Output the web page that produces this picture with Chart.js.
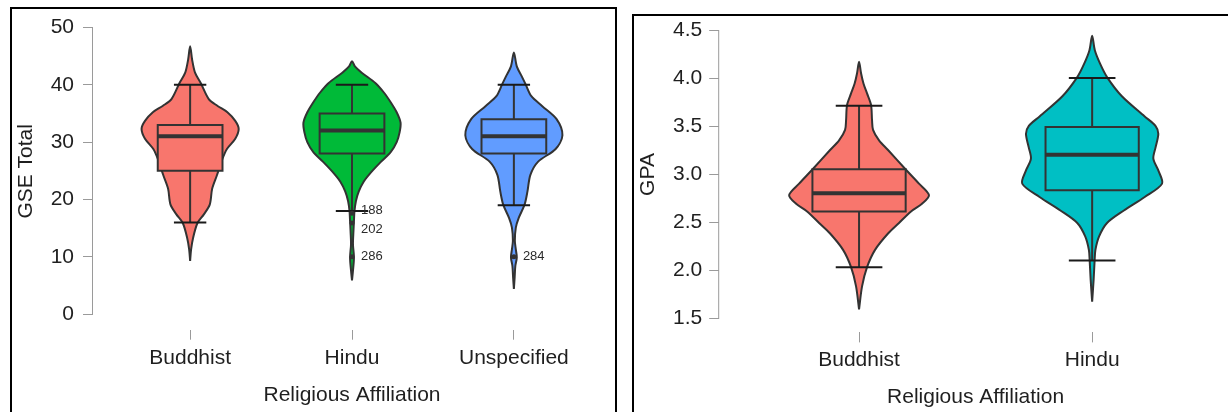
<!DOCTYPE html>
<html>
<head>
<meta charset="utf-8">
<title>Violin plots by religious affiliation</title>
<script src="https://cdn.jsdelivr.net/npm/chart.js@4.4.1/dist/chart.umd.min.js"></script>
<style>
  html, body { margin: 0; padding: 0; background: #fff; width: 1228px; height: 412px; overflow: hidden; }
  .panel { position: absolute; border: 2px solid #000; background: #fff; }
  #gsePanel { left: 10px; top: 7px; width: 603px; height: 410px; }
  #gpaPanel { left: 632px; top: 14px; width: 598px; height: 410px; }
  .panel canvas { position: absolute; left: 0; top: 0; }
</style>
</head>
<body>
<div class="panel" id="gsePanel"><canvas id="gseChart" width="603" height="403"></canvas></div>
<div class="panel" id="gpaPanel"><canvas id="gpaChart" width="598" height="396"></canvas></div>
<script>
// ---- groups and axis ticks ----
const gseGroups = ['Buddhist', 'Hindu', 'Unspecified'];
const gpaGroups = ['Buddhist', 'Hindu'];
const gseTicks = [0, 10, 20, 30, 40, 50];
const gpaTicks = [1.5, 2.0, 2.5, 3.0, 3.5, 4.0, 4.5];

// ---- box-plot summaries: lower whisker, Q1, median, Q3, upper whisker ----
const gseLower  = [16, 18, 19];
const gseQ1     = [25, 28, 28];
const gseMedian = [31, 32, 31];
const gseQ3     = [33, 35, 34];
const gseUpper  = [40, 40, 40];

const gpaLower  = [2.03, 2.10];
const gpaQ1     = [2.61, 2.83];
const gpaMedian = [2.80, 3.20];
const gpaQ3     = [3.05, 3.49];
const gpaUpper  = [3.71, 4.00];

// ---- kernel density profiles: score levels and relative density ----
const gseBuddhistLevels  = [9.3, 11.3, 13.3, 15.9, 17.4, 19.1, 21.9, 24.3, 27.1, 28.8, 30.6, 32.3, 33.7, 35.2, 36.3, 37.5, 40.3, 42.1, 44.4, 46.7];
const gseBuddhistDensity = [0, 1, 3, 7.5, 14, 20, 22.5, 27.5, 33, 37.5, 46, 49.5, 46, 38, 28, 19, 10.8, 5, 2, 0];

const gseHinduLevels  = [5.9, 7.6, 9.9, 12.2, 14.5, 16.2, 17.9, 19.7, 21.4, 23.1, 24.8, 26.6, 28.3, 30.0, 31.7, 33.4, 35.2, 36.9, 38.6, 40.3, 42.1, 43.2, 44.1];
const gseHinduDensity = [0, 1, 2, 1, 1.5, 2, 2.5, 4, 7, 12, 20, 30, 40, 46, 49, 50, 46, 40, 33, 24, 10, 3, 0];

const gseUnspecLevels  = [4.4, 6.4, 8.4, 9.9, 11.3, 12.8, 15.1, 16.8, 19.1, 21.4, 24.3, 26.6, 28.8, 31.2, 34.0, 36.3, 38.0, 40.1, 41.5, 43.2, 45.6];
const gseUnspecDensity = [0, 0.8, 1.5, 3, 2, 1, 2, 5, 11, 14, 17, 25, 43, 50, 44, 29, 18, 12, 8, 3, 0];

const gpaBuddhistLevels  = [1.59, 1.83, 2.03, 2.21, 2.38, 2.49, 2.61, 2.69, 2.78, 2.90, 3.05, 3.25, 3.35, 3.46, 3.56, 3.72, 3.84, 3.94, 4.05, 4.17];
const gpaBuddhistDensity = [0, 3, 8, 16, 29, 40, 52, 63, 70, 60, 46.5, 29, 20, 14, 13, 12, 8, 4.5, 2, 0];

const gpaHinduLevels  = [1.67, 1.90, 2.10, 2.21, 2.35, 2.49, 2.62, 2.76, 2.90, 3.03, 3.16, 3.28, 3.42, 3.50, 3.60, 3.81, 4.01, 4.15, 4.29, 4.44];
const gpaHinduDensity = [0, 1.5, 2.5, 3.3, 7, 15, 32, 53, 70.5, 67, 61.7, 64, 66.7, 64, 53, 30, 15, 8, 2.7, 0];

// ---- labelled outliers ----
const gseOutlierGroup = [1, 1, 1, 2];
const gseOutlierValue = [17.6, 15.9, 10.0, 10.0];
const gseOutlierId    = ['188', '202', '286', '284'];

// ---- styling ----
const FONT = "'Liberation Sans', Arial, Helvetica, sans-serif";
const OUTLINE = '#333333';
const AXIS_GREY = '#9a9a9a';
const TEXT = '#1f1f1f';
const gseColors = ['#F8766D', '#00BA38', '#619CFF'];
const gpaColors = ['#F8766D', '#00BFC4'];
const VIOLIN_HALF = 0.3;   // widest half-width, in category units
const BOX_HALF = 0.2;
const CAP_HALF = 0.1;
const outlierLabelShift = [-3, 6, 0, 0];  // vertical nudges keeping labels apart

Chart.defaults.font.family = FONT;
Chart.defaults.color = TEXT;

function violinOutline(idx, levels, density) {
  const peak = Math.max(...density);
  const right = levels.map((v, i) => ({ x: idx + density[i] / peak * VIOLIN_HALF, y: v }));
  const left = levels.map((v, i) => ({ x: idx - density[i] / peak * VIOLIN_HALF, y: v })).reverse();
  return right.concat(left.slice(1));
}

function boxOutline(idx, lo, hi) {
  return [
    { x: idx - BOX_HALF, y: lo }, { x: idx + BOX_HALF, y: lo },
    { x: idx + BOX_HALF, y: hi }, { x: idx - BOX_HALF, y: hi },
    { x: idx - BOX_HALF, y: lo }
  ];
}

function segment(data, width, color, order) {
  return { data, showLine: true, fill: false, borderColor: color, borderWidth: width,
           borderCapStyle: 'butt', pointRadius: 0, tension: 0, order };
}

// keep the plot area exactly where the layout puts it
function noLabelOverhang(s) {
  s.paddingTop = 0; s.paddingBottom = 0; s.paddingLeft = 0; s.paddingRight = 0;
}

// vertical axis line that spans only the first to the last tick
const rangeFrame = {
  id: 'rangeFrame',
  afterDraw(chart) {
    const y = chart.scales.y;
    const t = y.ticks;
    const x = chart.chartArea.left - 0.5;
    const ctx = chart.ctx;
    ctx.save();
    ctx.strokeStyle = AXIS_GREY;
    ctx.lineWidth = 1;
    ctx.beginPath();
    ctx.moveTo(x, Math.round(y.getPixelForValue(t[0].value)) + 1);
    ctx.lineTo(x, Math.round(y.getPixelForValue(t[t.length - 1].value)));
    ctx.stroke();
    ctx.restore();
  }
};

// case numbers written beside the outlying points
const outlierIds = {
  id: 'outlierIds',
  afterDatasetsDraw(chart, args, opts) {
    if (!opts.ids) return;
    const meta = chart.getDatasetMeta(opts.datasetIndex);
    const ctx = chart.ctx;
    ctx.save();
    ctx.font = '13px ' + FONT;
    ctx.fillStyle = '#2a2a2a';
    ctx.textAlign = 'left';
    ctx.textBaseline = 'middle';
    meta.data.forEach((pt, i) => {
      ctx.fillText(opts.ids[i], pt.x + 9, pt.y + (opts.shift[i] || 0));
    });
    ctx.restore();
  }
};

function buildPanel(canvasId, spec) {
  const datasets = [];
  spec.groups.forEach((g, i) => {
    datasets.push({
      data: violinOutline(i, spec.levels[i], spec.density[i]),
      showLine: true, fill: 'shape', backgroundColor: spec.colors[i],
      borderColor: OUTLINE, borderWidth: 2, tension: 0.3, pointRadius: 0, order: 9
    });
    datasets.push({
      data: boxOutline(i, spec.q1[i], spec.q3[i]),
      showLine: true, fill: 'shape', backgroundColor: spec.colors[i],
      borderColor: OUTLINE, borderWidth: 2, borderJoinStyle: 'miter', borderCapStyle: 'square',
      tension: 0, pointRadius: 0, order: 8
    });
    datasets.push(segment([{ x: i, y: spec.lower[i] }, { x: i, y: spec.q1[i] }], 2, OUTLINE, 7));
    datasets.push(segment([{ x: i, y: spec.q3[i] }, { x: i, y: spec.upper[i] }], 2, OUTLINE, 7));
    datasets.push(segment([{ x: i - BOX_HALF, y: spec.median[i] }, { x: i + BOX_HALF, y: spec.median[i] }], 4, OUTLINE, 6));
    datasets.push(segment([{ x: i - CAP_HALF, y: spec.lower[i] }, { x: i + CAP_HALF, y: spec.lower[i] }], 2, '#1a1a1a', 5));
    datasets.push(segment([{ x: i - CAP_HALF, y: spec.upper[i] }, { x: i + CAP_HALF, y: spec.upper[i] }], 2, '#1a1a1a', 5));
  });

  let outlierIndex = -1;
  if (spec.outlierGroup) {
    outlierIndex = datasets.length;
    datasets.push({
      data: spec.outlierGroup.map((gi, k) => ({ x: gi, y: spec.outlierValue[k] })),
      showLine: false, pointRadius: 2.5, pointBackgroundColor: '#333', pointBorderWidth: 0, order: 1
    });
  }

  const L = spec.layout;
  const tickFont = { family: FONT, size: 21 };
  const titleFont = { family: FONT, size: 21 };

  return new Chart(document.getElementById(canvasId), {
    type: 'scatter',
    data: { datasets },
    options: {
      responsive: false,
      animation: false,
      events: [],
      layout: { padding: { top: L.padTop, left: 0, right: 0, bottom: 0 } },
      plugins: {
        legend: { display: false },
        tooltip: { enabled: false },
        outlierIds: { datasetIndex: outlierIndex, ids: spec.outlierId, shift: outlierLabelShift }
      },
      scales: {
        x: {
          type: 'linear',
          min: -0.6,
          max: spec.groups.length - 0.4,
          afterBuildTicks: s => { s.ticks = spec.groups.map((g, i) => ({ value: i })); },
          afterFit: s => { s.height = L.xAxisHeight; noLabelOverhang(s); },
          ticks: { callback: v => spec.groups[v], autoSkip: false, maxRotation: 0,
                   padding: L.xLabelPad, color: TEXT, font: tickFont },
          grid: { drawOnChartArea: false, drawTicks: true, tickLength: 10, color: AXIS_GREY, lineWidth: 1 },
          border: { display: false },
          title: { display: true, text: 'Religious Affiliation', color: TEXT, font: titleFont,
                   padding: { top: 0, bottom: L.xTitlePad } }
        },
        y: {
          type: 'linear',
          min: spec.yMin,
          max: spec.yMax,
          afterBuildTicks: s => { s.ticks = spec.yTicks.map(v => ({ value: v })); },
          afterFit: s => { s.width = L.yAxisWidth; noLabelOverhang(s); },
          ticks: { callback: v => spec.tickFormat(v), padding: L.yLabelPad, color: TEXT, font: tickFont },
          grid: { drawOnChartArea: false, drawTicks: true, tickLength: 10, color: AXIS_GREY, lineWidth: 1 },
          border: { display: false },
          title: { display: true, text: spec.yTitle, color: TEXT, font: titleFont,
                   padding: { top: L.yTitlePad, bottom: 0 } }
        }
      }
    },
    plugins: [rangeFrame, outlierIds]
  });
}

buildPanel('gseChart', {
  groups: gseGroups,
  colors: gseColors,
  levels: [gseBuddhistLevels, gseHinduLevels, gseUnspecLevels],
  density: [gseBuddhistDensity, gseHinduDensity, gseUnspecDensity],
  lower: gseLower, q1: gseQ1, median: gseMedian, q3: gseQ3, upper: gseUpper,
  outlierGroup: gseOutlierGroup, outlierValue: gseOutlierValue, outlierId: gseOutlierId,
  yTicks: gseTicks, yMin: -2.7, yMax: 52.5,
  tickFormat: v => String(v),
  yTitle: 'GSE Total',
  layout: { padTop: 0.5, xAxisHeight: 82.3, yAxisWidth: 81, xLabelPad: 6, xTitlePad: 4.4, yLabelPad: 9, yTitlePad: 1.4 }
});

buildPanel('gpaChart', {
  groups: gpaGroups,
  colors: gpaColors,
  levels: [gpaBuddhistLevels, gpaHinduLevels],
  density: [gpaBuddhistDensity, gpaHinduDensity],
  lower: gpaLower, q1: gpaQ1, median: gpaMedian, q3: gpaQ3, upper: gpaUpper,
  yTicks: gpaTicks, yMin: 1.35, yMax: 4.64,
  tickFormat: v => v.toFixed(1),
  yTitle: 'GPA',
  layout: { padTop: 0.6, xAxisHeight: 79.6, yAxisWidth: 85.2, xLabelPad: 5, xTitlePad: 2.4, yLabelPad: 7, yTitlePad: 1.4 }
});
</script>
</body>
</html>
